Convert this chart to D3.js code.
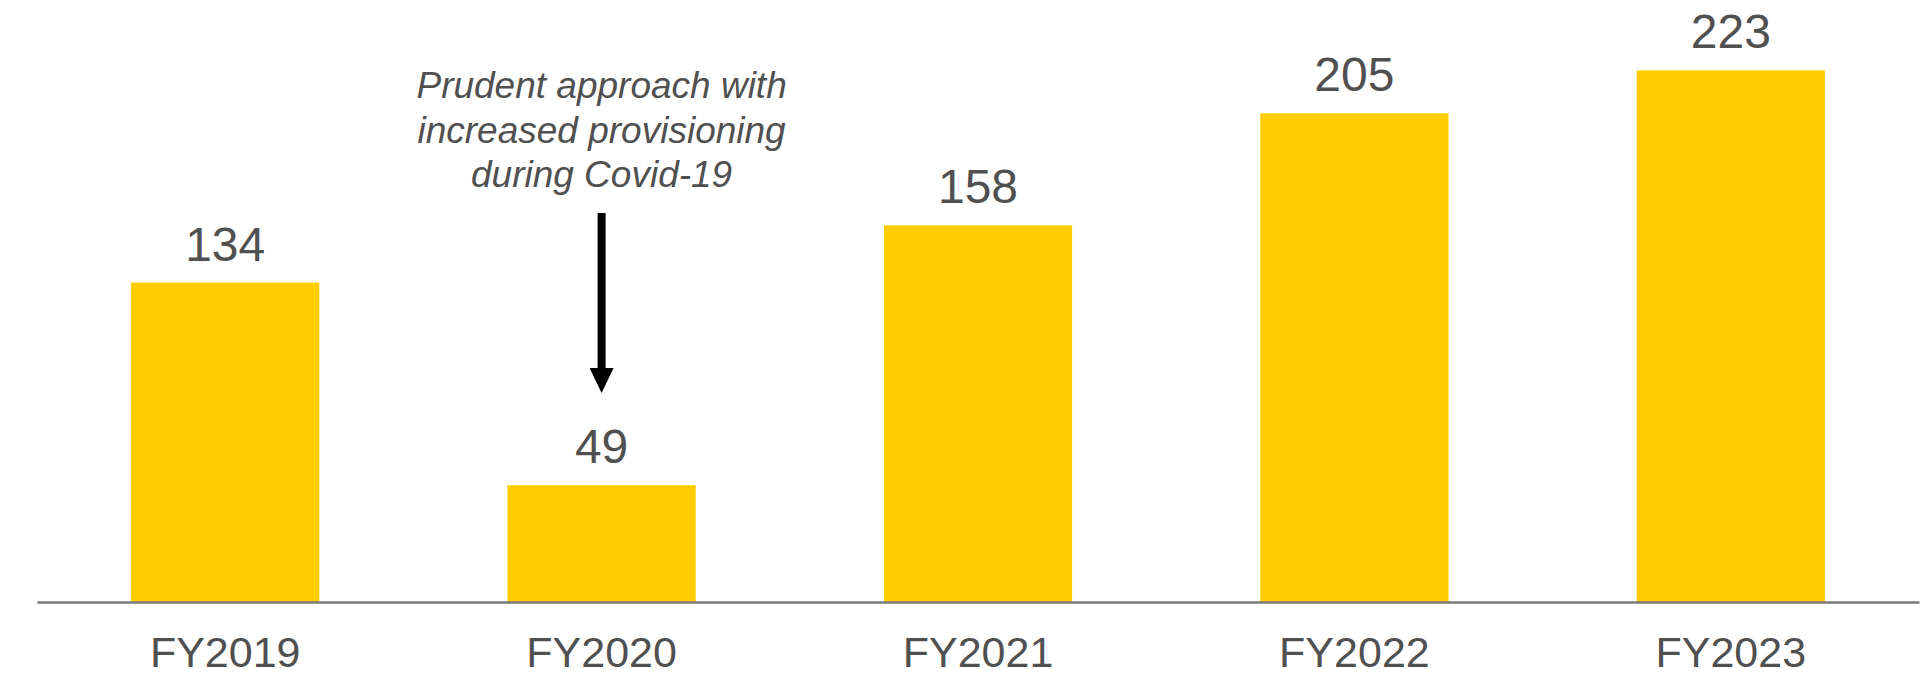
<!DOCTYPE html>
<html>
<head>
<meta charset="utf-8">
<script src="https://cdn.jsdelivr.net/npm/d3@7"></script>
<style>
  body { margin: 0; background: #fff; }
  svg { display: block; font-family: "Liberation Sans", Arial, sans-serif; }
</style>
</head>
<body>
<div id="chart"></div>
<script>
const categories = ['FY2019', 'FY2020', 'FY2021', 'FY2022', 'FY2023']
const values = [134, 49, 158, 205, 223]
const noteLines = ['Prudent approach with', 'increased provisioning', 'during Covid-19']
const noteCategory = 'FY2020'

const width = 1926, height = 676
const baseY = 602
const textColor = '#505050'

const svg = d3.select('#chart')
  .append('svg')
  .attr('width', width)
  .attr('height', height)

const xScale = d3.scaleBand()
  .domain(categories)
  .range([37, 1919])
  .paddingInner(0.5)
  .paddingOuter(0.25)

const yScale = d3.scaleLinear()
  .domain([0, 250])
  .range([baseY, 6])

// bars
svg.selectAll('rect.bar')
  .data(values)
  .enter()
  .append('rect')
  .attr('class', 'bar')
  .attr('x', (d, i) => xScale(categories[i]))
  .attr('y', d => yScale(d))
  .attr('width', xScale.bandwidth())
  .attr('height', d => baseY - yScale(d))
  .attr('fill', '#FFCC00')

// value labels
svg.selectAll('text.val')
  .data(values)
  .enter()
  .append('text')
  .attr('class', 'val')
  .attr('x', (d, i) => xScale(categories[i]) + xScale.bandwidth() / 2)
  .attr('y', d => yScale(d) - 22)
  .attr('text-anchor', 'middle')
  .attr('font-size', 48)
  .attr('fill', textColor)
  .text(d => d)

// x axis
const xAxis = d3.axisBottom(xScale).tickSize(0).tickPadding(34)
const gx = svg.append('g')
  .attr('transform', `translate(0,${baseY})`)
  .call(xAxis)
gx.select('.domain')
  .attr('stroke', '#7a7a7a')
  .attr('stroke-width', 2.5)
gx.selectAll('text')
  .attr('font-size', 43)
  .attr('font-family', '"Liberation Sans", Arial, sans-serif')
  .attr('fill', textColor)

// annotation
const cx = xScale(noteCategory) + xScale.bandwidth() / 2
svg.append('text')
  .attr('x', cx)
  .attr('y', 98)
  .attr('text-anchor', 'middle')
  .attr('font-size', 37)
  .attr('font-style', 'italic')
  .attr('fill', textColor)
  .selectAll('tspan')
  .data(noteLines)
  .enter()
  .append('tspan')
  .attr('x', cx)
  .attr('dy', (d, i) => i === 0 ? 0 : 44.5)
  .text(d => d)

svg.append('line')
  .attr('x1', cx).attr('x2', cx)
  .attr('y1', 213).attr('y2', 370)
  .attr('stroke', '#000')
  .attr('stroke-width', 8)

svg.append('path')
  .attr('d', `M${cx - 12},368 L${cx + 12},368 L${cx},393 Z`)
  .attr('fill', '#000')
</script>
</body>
</html>
